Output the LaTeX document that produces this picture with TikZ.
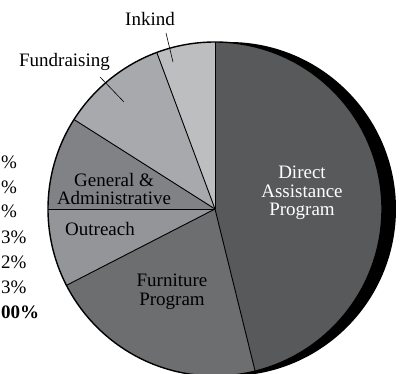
\documentclass[tikz,border=0pt]{standalone}
\usepackage{fontspec}
\setmainfont{Liberation Serif}
\usepackage{tikz}

\definecolor{directgray}{RGB}{88,89,91}
\definecolor{furnituregray}{RGB}{109,110,112}
\definecolor{outreachgray}{RGB}{147,149,152}
\definecolor{admingray}{RGB}{128,130,133}
\definecolor{fundgray}{RGB}{167,169,172}
\definecolor{inkindgray}{RGB}{188,190,192}

\tikzset{
  lbl/.style={font=\fontsize{19}{18.5}\selectfont, align=center, inner sep=0pt},
  pct/.style={font=\fontsize{19}{18.5}\selectfont, inner sep=0pt, anchor=west},
}

\begin{document}
\begin{tikzpicture}[x=1pt, y=1pt]
\newcommand{\Rad}{167}; % pie radius
\newcommand{\Shift}{14}; % offset of the black rim

\useasboundingbox (0,0) rectangle (405,373);

\coordinate (C) at (215,164); % centre of pie
\coordinate (S) at (215+\Shift,164); % centre of rim
%

% black rim behind the pie
\fill[black] (S) circle[radius=\Rad];

% slices
\fill[directgray]    (C) -- ++(-76.1:\Rad) arc[start angle=-76.1, end angle=90,    radius=\Rad] -- cycle;
\fill[inkindgray]    (C) -- ++(90:\Rad)    arc[start angle=90,    end angle=110.4, radius=\Rad] -- cycle;
\fill[fundgray]      (C) -- ++(110.4:\Rad) arc[start angle=110.4, end angle=147.6, radius=\Rad] -- cycle;
\fill[admingray]     (C) -- ++(147.6:\Rad) arc[start angle=147.6, end angle=180,   radius=\Rad] -- cycle;
\fill[outreachgray]  (C) -- ++(180:\Rad)   arc[start angle=180,   end angle=207.2, radius=\Rad] -- cycle;
\fill[furnituregray] (C) -- ++(207.2:\Rad) arc[start angle=207.2, end angle=283.9, radius=\Rad] -- cycle;

% borders
\draw[line width=0.9pt] (C) -- ++(90:\Rad);
\draw[line width=0.9pt] (C) -- ++(110.4:\Rad);
\draw[line width=0.9pt] (C) -- ++(147.6:\Rad);
\draw[line width=0.9pt] (C) -- ++(180:\Rad);
\draw[line width=0.9pt] (C) -- ++(207.2:\Rad);
\draw[line width=0.9pt] (C) -- ++(283.9:\Rad);
\draw[line width=1.4pt] (C) circle[radius=\Rad];

% slice labels
\node[lbl, text=white] (direct) at (302,180) {Direct\\Assistance\\Program};
\node[lbl] (furniture) at (172,81) {Furniture\\Program};
\node[lbl] (outreach) at (100,144) {Outreach};
\node[lbl] (admin) at (114,184) {General \&\\Administrative};
\node[lbl] (fund) at (64.5,311) {Fundraising};
\node[lbl] (inkind) at (150,354) {Inkind};

% leaders
\coordinate (inkA) at (166,340);
\coordinate (inkB) at (173,311);
\coordinate (fundA) at (100,296);
\coordinate (fundB) at (124,271);
\draw[line width=0.6pt] (inkA) -- (inkB);
\draw[line width=0.6pt] (fundA) -- (fundB);

% percentages at the left edge
\node[pct] (pa) at (1,211) {\%};
\node[pct] (pb) at (1,186) {\%};
\node[pct] (pc) at (1,162) {\%};
\node[pct] (pd) at (1,136) {3\%};
\node[pct] (pe) at (1,111) {2\%};
\node[pct] (pf) at (1,86) {3\%};
\node[pct] (pg) at (1,61) {\textbf{00\%}};
\end{tikzpicture}
\end{document}
